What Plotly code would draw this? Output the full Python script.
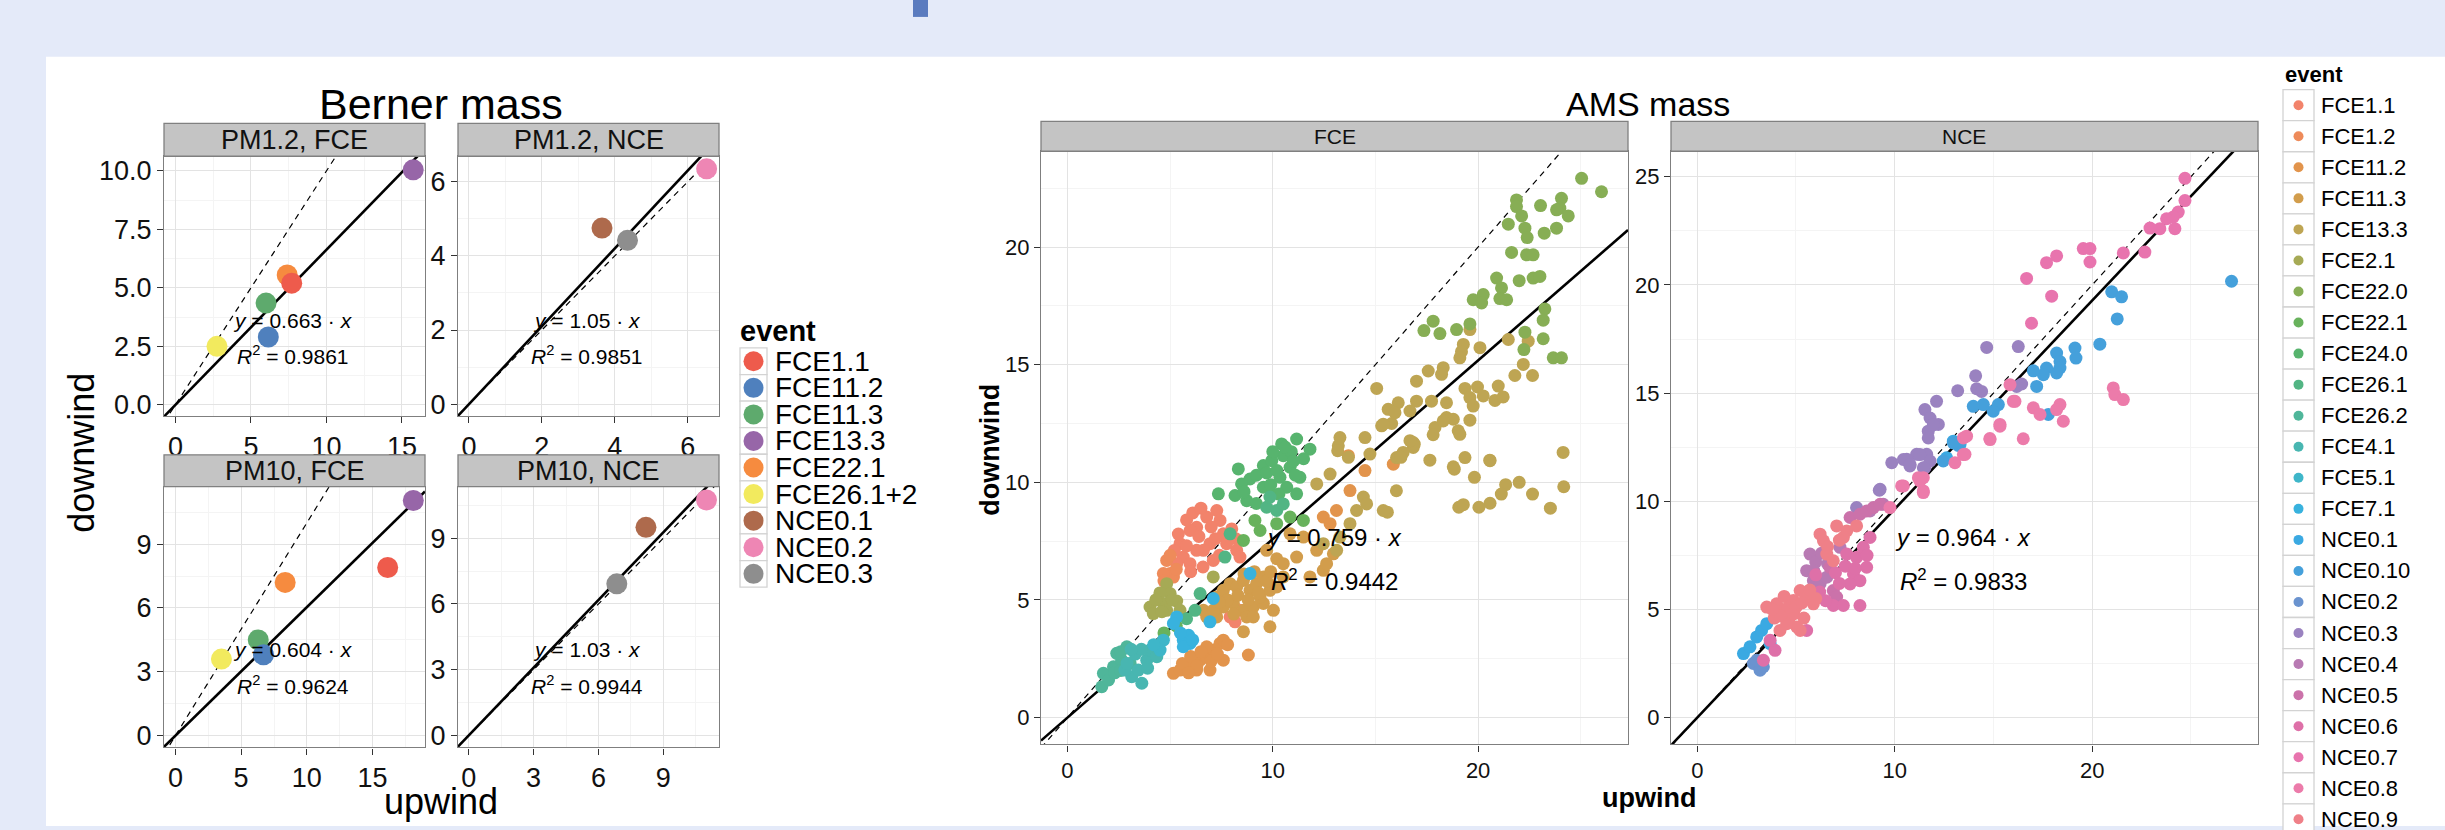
import plotly.graph_objects as go

W, H = 2445, 830
FONT = "Liberation Sans, Arial, sans-serif"

# ---------------- Berner mass data ----------------
berner_events = ["FCE1.1", "FCE11.2", "FCE11.3", "FCE13.3", "FCE22.1", "FCE26.1+2", "NCE0.1", "NCE0.2", "NCE0.3"]
berner_colors = ["#EE5B4C", "#4F80BD", "#5EAA6D", "#9766A8", "#F68B3F", "#F2EA5E", "#AE6A4C", "#EE86B4", "#8E8E8E"]

pm12_fce_event = ["FCE26.1+2", "FCE11.2", "FCE11.3", "FCE22.1", "FCE1.1", "FCE13.3"]
pm12_fce_up = [2.75, 6.15, 6.00, 7.40, 7.70, 15.75]
pm12_fce_down = [2.50, 2.90, 4.35, 5.55, 5.20, 10.05]

pm12_nce_event = ["NCE0.1", "NCE0.3", "NCE0.2"]
pm12_nce_up = [3.65, 4.35, 6.52]
pm12_nce_down = [4.75, 4.42, 6.35]

pm10_fce_event = ["FCE26.1+2", "FCE11.3", "FCE11.2", "FCE22.1", "FCE1.1", "FCE13.3"]
pm10_fce_up = [3.50, 6.30, 6.70, 8.35, 16.15, 18.10]
pm10_fce_down = [3.60, 4.50, 3.80, 7.20, 7.90, 11.05]

pm10_nce_event = ["NCE0.3", "NCE0.1", "NCE0.2"]
pm10_nce_up = [6.85, 8.20, 11.00]
pm10_nce_down = [6.92, 9.50, 10.75]

berner_slopes = [0.663, 1.05, 0.604, 1.03]
berner_slope_txt = ["0.663", "1.05", "0.604", "1.03"]
berner_r2 = ["0.9861", "0.9851", "0.9624", "0.9944"]
berner_titles = ["PM1.2, FCE", "PM1.2, NCE", "PM10, FCE", "PM10, NCE"]

# ---------------- AMS mass data (upwind, downwind) ----------------
ams_events = ["FCE1.1", "FCE1.2", "FCE11.2", "FCE11.3", "FCE13.3", "FCE2.1", "FCE22.0", "FCE22.1",
              "FCE24.0", "FCE26.1", "FCE26.2", "FCE4.1", "FCE5.1", "FCE7.1", "NCE0.1", "NCE0.10",
              "NCE0.2", "NCE0.3", "NCE0.4", "NCE0.5", "NCE0.6", "NCE0.7", "NCE0.8", "NCE0.9"]
ams_colors = ["#F2836B", "#EE8B5A", "#E2944C", "#D29D4C", "#BEA553", "#A6AA55", "#87AE55", "#68B25C",
              "#57B46E", "#52B584", "#4FB69A", "#48B6B1", "#3EB6C9", "#38B2DE", "#3AA9E2", "#45A0DB",
              "#6A93CF", "#9A82C0", "#B87AB3", "#CB72AA", "#DE70A8", "#E874AE", "#EC7BAA", "#EF8088"]

fce1_1 = [(6.78, 8.52), (7.27, 8.80), (7.43, 8.38), (6.29, 8.09), (5.97, 7.95), (6.94, 7.39), (6.62, 7.11),
          (7.10, 6.68), (7.59, 7.81), (8.00, 8.02), (8.24, 7.11), (8.40, 6.82), (5.48, 7.39), (5.64, 6.82),
          (5.32, 6.54), (5.97, 6.54), (6.29, 7.11), (7.75, 7.39), (7.92, 4.28), (8.16, 4.07), (8.40, 4.56),
          (5.40, 7.80), (5.80, 8.40), (6.10, 8.70), (6.50, 8.90), (7.00, 8.10), (7.20, 7.60), (6.40, 7.70),
          (5.80, 7.30), (6.00, 6.20), (6.60, 6.40), (7.40, 6.90), (8.20, 7.60), (5.20, 7.10)]
fce1_2 = [(4.83, 6.68), (5.00, 6.12), (5.16, 5.97), (4.67, 6.12), (5.30, 6.30), (5.00, 6.90), (4.70, 5.80)]
fce11_2 = [(5.16, 1.88), (5.48, 2.02), (5.81, 2.16), (6.13, 2.30), (6.46, 2.44), (6.78, 2.59), (7.10, 2.87),
           (7.43, 3.15), (7.59, 3.29), (6.29, 2.02), (6.94, 2.02), (7.59, 2.44), (6.78, 3.01), (8.81, 2.66),
           (13.76, 9.65), (13.10, 8.80), (12.46, 8.52), (12.79, 8.24), (14.49, 10.50), (13.68, 11.13),
           (15.87, 10.77), (5.60, 2.30), (6.00, 2.60), (6.50, 2.80), (7.00, 2.40), (7.30, 2.70), (6.30, 2.20),
           (7.80, 3.10), (5.90, 1.90)]
fce11_3 = [(7.27, 5.13), (7.59, 5.41), (7.92, 5.69), (8.24, 5.55), (8.57, 5.83), (8.89, 5.41), (9.21, 5.69),
           (9.54, 5.98), (9.86, 5.41), (10.19, 5.55), (7.59, 4.70), (8.08, 4.85), (8.57, 4.56), (9.05, 4.70),
           (9.54, 4.85), (6.78, 4.28), (7.27, 4.28), (8.73, 4.28), (9.05, 4.28), (6.62, 4.56), (10.03, 4.56),
           (9.86, 3.86), (8.57, 3.65), (7.10, 4.56), (9.38, 5.13), (9.70, 7.11), (10.19, 6.75), (11.81, 5.98),
           (12.46, 6.26), (12.95, 6.96), (10.51, 5.98), (10.84, 7.81), (11.49, 7.67), (12.14, 7.11),
           (12.62, 6.54), (11.16, 6.82), (10.51, 6.54), (7.80, 5.00), (8.30, 5.20), (8.80, 5.00), (9.30, 5.30),
           (9.70, 5.80), (8.10, 4.40), (9.90, 6.20), (7.40, 4.90), (8.60, 6.10), (9.10, 6.20)]
fce13_3 = [(19.60, 16.49), (19.28, 15.86), (19.19, 15.55), (19.11, 15.29), (20.09, 15.72), (21.47, 16.07),
           (22.44, 16.00), (17.57, 14.73), (18.30, 14.87), (18.22, 14.59), (17.00, 14.30), (15.06, 13.99),
           (22.20, 15.01), (21.79, 14.54), (22.65, 14.54), (19.36, 13.99), (19.97, 14.05), (20.98, 14.09),
           (19.60, 13.60), (20.25, 13.67), (20.82, 13.48), (21.22, 13.63), (19.76, 13.24), (16.11, 13.38),
           (15.62, 13.10), (15.95, 12.96), (17.00, 13.45), (16.68, 13.03), (17.73, 13.45), (18.46, 13.38),
           (18.46, 12.75), (18.79, 12.68), (19.60, 12.64), (15.30, 12.40), (15.79, 12.50), (17.90, 12.33),
           (17.81, 12.02), (19.03, 12.19), (19.11, 12.04), (14.49, 11.90), (13.27, 11.90), (13.19, 11.55),
           (13.16, 11.34), (16.84, 11.69), (16.84, 11.48), (16.35, 11.27), (16.03, 11.05), (14.73, 11.20),
           (17.65, 10.94), (19.36, 11.05), (20.57, 10.94), (24.14, 11.27), (18.79, 10.66), (24.17, 9.81),
           (23.52, 8.90), (22.65, 9.50), (22.00, 10.00), (21.34, 9.90), (21.13, 9.50), (20.58, 9.11),
           (20.04, 8.94), (19.06, 8.94), (19.28, 9.05), (18.84, 10.56), (19.82, 10.21), (20.58, 10.92),
           (16.02, 9.64), (15.58, 8.73), (16.89, 11.62), (16.24, 11.06), (13.27, 7.67), (13.76, 8.24),
           (14.08, 8.80), (14.41, 9.37), (14.57, 9.08), (13.11, 7.11), (12.46, 7.39), (15.38, 8.80),
           (12.14, 9.93), (12.79, 10.35), (13.68, 11.06), (15.38, 12.47), (16.68, 11.77), (18.30, 12.61)]
fce2_1 = [(4.83, 5.69), (5.00, 5.27), (4.67, 4.85), (5.32, 4.95), (4.02, 4.70), (4.18, 4.42), (5.48, 4.56),
          (4.83, 4.56), (7.10, 5.98), (4.50, 5.30), (4.30, 5.00), (4.60, 4.50), (5.10, 5.00)]
fce22_0 = [(25.04, 22.92), (26.01, 22.35), (21.87, 22.00), (21.87, 21.72), (23.04, 21.76), (24.06, 22.07),
           (23.98, 21.65), (23.82, 21.58), (24.39, 21.32), (22.12, 21.32), (21.47, 20.97), (22.28, 20.80),
           (22.39, 20.40), (23.22, 20.59), (23.82, 20.80), (21.63, 19.77), (22.36, 19.67), (22.68, 19.67),
           (20.90, 18.68), (22.00, 18.57), (22.68, 18.68), (23.01, 18.75), (21.14, 18.26), (20.25, 17.98),
           (19.76, 17.76), (20.17, 17.62), (21.06, 17.81), (21.39, 17.76), (23.25, 17.37), (23.17, 16.89),
           (17.81, 16.85), (17.36, 16.45), (18.14, 16.32), (18.95, 16.49), (19.60, 16.73), (22.28, 16.38),
           (23.17, 16.10), (22.23, 15.64), (23.66, 15.29), (24.06, 15.29)]
fce22_1 = [(9.38, 7.95), (10.19, 8.24), (10.84, 8.52), (11.49, 8.38), (8.57, 7.53), (9.13, 8.38),
           (4.70, 3.60), (5.30, 3.90)]
fce24_0 = [(7.35, 9.51), (8.32, 10.57), (8.89, 10.14), (8.48, 9.93), (8.16, 9.44), (8.73, 9.22), (9.54, 10.71),
           (9.95, 10.92), (10.43, 11.63), (11.16, 11.84), (11.81, 11.41), (10.51, 11.13), (10.84, 10.64),
           (11.32, 10.21), (10.35, 10.21), (9.54, 9.79), (9.95, 9.51), (10.68, 9.79), (11.16, 9.51),
           (10.90, 11.30), (11.50, 11.00), (10.00, 11.30), (9.20, 10.30), (9.70, 10.40), (10.20, 10.50),
           (10.60, 11.50), (11.00, 10.90), (9.90, 9.90), (10.30, 9.50), (11.10, 10.30), (8.60, 9.60),
           (9.20, 9.10)]
fce26_1 = [(10.19, 8.80), (10.51, 9.08), (9.70, 8.94), (9.86, 9.37), (7.67, 6.82), (7.92, 7.81), (6.46, 5.27),
           (6.21, 4.56), (5.80, 4.20)]
fce26_2 = [(1.67, 1.31), (1.75, 1.88), (2.24, 2.16), (2.64, 2.44), (2.89, 3.01), (2.40, 2.73), (3.05, 2.30),
           (2.00, 1.60), (2.30, 1.90), (2.60, 2.00), (2.60, 2.80)]
fce4_1 = [(3.13, 1.74), (3.62, 1.46), (3.45, 2.02), (3.86, 2.44), (4.02, 2.87), (4.35, 2.59), (2.80, 2.02),
          (2.90, 2.30), (3.30, 2.70), (3.60, 2.90), (3.90, 2.10), (3.10, 2.90)]
fce5_1 = [(4.67, 3.29), (4.51, 2.87), (4.20, 3.10)]
fce7_1 = [(5.32, 4.28), (5.16, 4.00), (5.64, 3.29), (5.97, 3.15), (5.64, 3.01), (7.10, 5.06), (8.89, 6.12),
          (6.94, 4.07), (5.90, 3.50), (5.50, 3.60), (6.10, 3.30)]

nce0_1 = [(2.34, 2.96), (2.67, 3.27), (3.01, 3.73), (3.26, 4.03), (3.52, 4.34), (3.69, 3.42), (12.63, 12.01),
          (13.31, 12.62), (12.97, 12.78)]
nce0_10 = [(27.06, 20.17), (20.99, 19.68), (21.49, 19.45), (21.27, 18.43), (20.39, 17.26), (19.13, 17.08),
           (19.18, 16.62), (18.20, 16.85), (18.37, 16.46), (18.37, 16.16), (18.20, 15.93), (17.69, 16.16),
           (17.53, 15.85), (17.02, 16.03), (17.19, 15.31), (15.25, 14.47), (14.99, 14.16), (14.49, 14.47),
           (13.98, 14.39), (17.78, 14.01), (13.22, 12.58), (12.97, 12.70), (12.46, 11.86)]
nce0_2 = [(2.84, 2.50), (3.18, 2.19), (3.35, 2.35), (3.01, 2.65)]
nce0_3 = [(14.66, 17.11), (16.26, 17.15), (14.10, 15.80), (13.19, 15.11), (14.15, 15.20), (14.40, 15.08),
          (16.43, 15.42), (16.18, 15.31), (12.12, 14.62), (11.53, 14.24), (11.79, 13.85), (11.96, 13.55),
          (11.70, 13.24), (11.70, 12.93), (12.21, 13.55), (11.11, 12.17), (11.62, 12.17), (10.61, 11.94),
          (9.85, 11.78), (10.77, 11.63), (11.53, 11.55), (9.22, 10.51), (8.07, 9.71), (9.26, 10.55),
          (10.44, 11.93), (10.78, 11.70), (11.28, 12.16), (11.79, 11.86), (11.45, 11.55), (11.96, 13.54)]
nce0_4 = [(5.71, 7.56), (5.54, 6.79), (5.88, 6.33), (6.22, 6.18), (6.56, 6.49), (7.23, 7.87), (9.42, 9.86),
          (8.75, 9.55), (6.00, 7.20), (6.30, 7.60), (5.90, 6.80), (6.60, 7.10)]
nce0_5 = [(6.72, 6.95), (6.89, 5.87), (7.06, 5.57), (7.74, 9.25), (8.24, 9.40), (8.58, 9.55), (8.92, 9.71),
          (9.26, 9.86)]
nce0_6 = [(7.57, 7.56), (8.07, 7.41), (8.58, 6.95), (8.41, 7.87), (8.75, 8.33), (7.91, 6.64), (8.24, 6.33),
          (7.74, 6.18), (6.89, 5.18), (7.40, 5.18), (8.24, 5.18), (5.54, 4.03), (3.94, 3.11), (3.35, 2.65),
          (3.69, 3.57), (7.00, 6.70), (7.50, 7.00), (8.00, 6.90), (7.20, 6.20), (8.60, 7.50), (6.20, 5.80),
          (6.50, 5.40), (6.00, 6.60)]
nce0_7 = [(24.70, 24.93), (24.70, 23.90), (24.36, 23.37), (24.11, 23.14), (23.77, 23.06), (23.43, 22.60),
          (22.93, 22.63), (24.19, 22.60), (22.67, 21.52), (21.58, 21.48), (19.55, 21.68), (19.89, 21.68),
          (19.89, 21.06), (18.20, 21.34), (17.69, 21.03), (16.68, 20.30), (17.95, 19.48), (16.93, 18.23)]
nce0_8 = [(21.07, 15.24), (21.15, 14.93), (21.58, 14.70), (15.84, 15.39), (16.09, 14.62), (17.02, 14.32),
          (17.36, 14.01), (18.37, 14.47), (18.20, 14.24), (18.54, 13.70), (15.33, 13.55), (14.82, 12.90),
          (16.51, 12.89), (13.48, 12.93), (13.56, 12.17), (13.05, 11.78), (11.45, 11.09), (11.45, 10.48),
          (10.35, 10.71), (11.20, 11.09), (9.76, 9.71), (10.44, 10.71), (11.28, 10.94), (11.45, 10.40),
          (13.48, 12.16), (13.64, 13.01), (14.83, 12.85), (15.33, 13.47), (16.01, 14.62)]
nce0_9 = [(3.52, 5.11), (4.02, 5.26), (4.36, 4.95), (4.87, 5.41), (5.21, 5.87), (5.54, 5.57), (4.70, 4.65),
          (5.04, 4.19), (4.19, 4.03), (5.21, 4.03), (4.53, 4.34), (5.88, 5.26), (6.22, 8.48), (7.06, 8.86),
          (7.57, 8.63), (8.07, 8.86), (7.40, 8.33), (6.56, 7.56), (6.89, 7.25), (6.39, 8.17), (4.40, 5.60),
          (3.90, 4.60), (4.90, 4.80), (4.60, 5.10), (5.00, 5.10), (5.40, 4.60), (4.20, 4.70), (3.80, 5.00),
          (5.70, 5.90), (6.00, 5.50), (6.60, 7.90), (7.20, 8.20), (5.30, 5.30)]

ams_fce_series = [("FCE1.1", fce1_1), ("FCE1.2", fce1_2), ("FCE11.2", fce11_2), ("FCE11.3", fce11_3),
                  ("FCE13.3", fce13_3), ("FCE2.1", fce2_1), ("FCE22.0", fce22_0), ("FCE22.1", fce22_1),
                  ("FCE24.0", fce24_0), ("FCE26.1", fce26_1), ("FCE26.2", fce26_2), ("FCE4.1", fce4_1),
                  ("FCE5.1", fce5_1), ("FCE7.1", fce7_1)]
ams_nce_series = [("NCE0.1", nce0_1), ("NCE0.10", nce0_10), ("NCE0.2", nce0_2), ("NCE0.3", nce0_3),
                  ("NCE0.4", nce0_4), ("NCE0.5", nce0_5), ("NCE0.6", nce0_6), ("NCE0.7", nce0_7),
                  ("NCE0.8", nce0_8), ("NCE0.9", nce0_9)]
ams_slopes = [0.759, 0.964]
ams_slope_txt = ["0.759", "0.964"]
ams_r2 = ["0.9442", "0.9833"]
ams_titles = ["FCE", "NCE"]

# ---------------- helpers ----------------
def fx(x):
    return x / W


def fy(y):
    return 1 - y / H


fig = go.Figure()
layout_axes = {}
shapes = []
annotations = []

# slide background pieces
shapes.append(dict(type="rect", xref="paper", yref="paper", x0=fx(46), x1=1, y0=0, y1=fy(57),
                   fillcolor="white", line_width=0, layer="below"))
shapes.append(dict(type="rect", xref="paper", yref="paper", x0=fx(913), x1=fx(928), y0=fy(17), y1=1,
                   fillcolor="#5A7BBF", line_width=0, layer="below"))


def add_panel(i, box, xr, yr, xd, yd, yfmt, fsize, strip_top, strip_text, strip_size):
    x0, y0, x1, y1 = box
    xa = "xaxis" if i == 1 else f"xaxis{i}"
    ya = "yaxis" if i == 1 else f"yaxis{i}"
    xref = "x" if i == 1 else f"x{i}"
    yref = "y" if i == 1 else f"y{i}"
    common = dict(showgrid=True, gridcolor="#E3E3E3", gridwidth=1.4, zeroline=False, showline=True,
                  linecolor="#7F7F7F", linewidth=1.3, mirror=True, ticks="outside", ticklen=6,
                  tickwidth=1.2, tickcolor="#333333", tick0=0, fixedrange=True,
                  tickfont=dict(family=FONT, size=fsize, color="#111111"))
    layout_axes[xa] = dict(common, domain=[fx(x0), fx(x1)], range=list(xr), dtick=xd, anchor=yref,
                           minor=dict(showgrid=True, gridcolor="#F4F4F4", gridwidth=1, tick0=0, dtick=xd / 2))
    layout_axes[ya] = dict(common, domain=[fy(y1), fy(y0)], range=list(yr), dtick=yd, anchor=xref,
                           tickformat=yfmt,
                           minor=dict(showgrid=True, gridcolor="#F4F4F4", gridwidth=1, tick0=0, dtick=yd / 2))
    shapes.append(dict(type="rect", xref="paper", yref="paper", x0=fx(x0), x1=fx(x1), y0=fy(y0),
                       y1=fy(strip_top), fillcolor="#C4C4C4", line=dict(color="#808080", width=1.3)))
    annotations.append(dict(xref="paper", yref="paper", x=fx((x0 + x1) / 2), y=fy((strip_top + y0) / 2),
                            text=strip_text, showarrow=False, xanchor="center", yanchor="middle",
                            font=dict(family=FONT, size=strip_size, color="#111111")))
    return xref, yref


def add_fit(xref, yref, xr, slope):
    xs = list(xr)
    fig.add_trace(go.Scatter(x=xs, y=[v for v in xs], mode="lines", xaxis=xref, yaxis=yref,
                             line=dict(color="black", width=1.2, dash="6px,5px"),
                             showlegend=False, hoverinfo="skip"))
    fig.add_trace(go.Scatter(x=xs, y=[slope * v for v in xs], mode="lines", xaxis=xref, yaxis=yref,
                             line=dict(color="black", width=2.6), showlegend=False, hoverinfo="skip"))


def add_eq(cx, cy1, cy2, slope_txt, r2_txt, size):
    annotations.append(dict(xref="paper", yref="paper", x=fx(cx), y=fy(cy1), showarrow=False,
                            text=f"<i>y</i> = {slope_txt} · <i>x</i>", xanchor="center", yanchor="middle",
                            font=dict(family=FONT, size=size, color="black")))
    annotations.append(dict(xref="paper", yref="paper", x=fx(cx), y=fy(cy2), showarrow=False,
                            text=f"<i>R</i><sup>2</sup> = {r2_txt}", xanchor="center", yanchor="middle",
                            font=dict(family=FONT, size=size, color="black")))


# ---------------- Berner panels ----------------
bcol = dict(zip(berner_events, berner_colors))
berner_data = [(pm12_fce_event, pm12_fce_up, pm12_fce_down), (pm12_nce_event, pm12_nce_up, pm12_nce_down),
               (pm10_fce_event, pm10_fce_up, pm10_fce_down), (pm10_nce_event, pm10_nce_up, pm10_nce_down)]
berner_boxes = [(164, 157, 425, 418), (458, 157, 719, 418), (164, 489, 425, 751), (458, 489, 719, 751)]
berner_strip_tops = [124, 124, 457, 457]
berner_xr = [(-0.76, 16.53), (-0.30, 6.86), (-0.87, 18.99), (-0.50, 11.58)]
berner_yr = [(-0.48, 10.63), (-0.32, 6.69), (-0.55, 11.70), (-0.55, 11.36)]
berner_xd = [5, 2, 5, 3]
berner_yd = [2.5, 2, 3, 3]
berner_yfmt = [".1f", "d", "d", "d"]
berner_eq_pos = [(293, 321.7, 356.7), (586.7, 321.7, 356.7), (293.4, 652.3, 688.3), (586.7, 652.3, 688.3)]

for k in range(4):
    xref, yref = add_panel(k + 1, berner_boxes[k], berner_xr[k], berner_yr[k], berner_xd[k], berner_yd[k],
                           berner_yfmt[k], 27, berner_strip_tops[k], berner_titles[k], 27)
    add_fit(xref, yref, berner_xr[k], berner_slopes[k])
    ev, up, dn = berner_data[k]
    fig.add_trace(go.Scatter(x=up, y=dn, mode="markers", xaxis=xref, yaxis=yref, cliponaxis=False,
                             marker=dict(size=21, color=[bcol[e] for e in ev], line_width=0),
                             showlegend=False))
    cx, c1, c2 = berner_eq_pos[k]
    add_eq(cx, c1, c2, berner_slope_txt[k], berner_r2[k], 21)

# ---------------- AMS panels ----------------
acol = dict(zip(ams_events, ams_colors))
ams_boxes = [(1041, 152, 1628, 748), (1671, 152, 2258, 748)]
ams_xr = [(-1.29, 27.3), (-1.33, 28.4)]
ams_yr = [(-1.14, 24.07), (-1.24, 26.18)]
ams_eq_pos = [(1334, 540, 583), (1963, 540, 583)]
for k, series in enumerate([ams_fce_series, ams_nce_series]):
    xref, yref = add_panel(5 + k, ams_boxes[k], ams_xr[k], ams_yr[k], 10, 5, "d", 22, 122, ams_titles[k], 21)
    add_fit(xref, yref, ams_xr[k], ams_slopes[k])
    for name, pts in series:
        fig.add_trace(go.Scatter(x=[p[0] for p in pts], y=[p[1] for p in pts], mode="markers",
                                 xaxis=xref, yaxis=yref, name=name,
                                 marker=dict(size=13, color=acol[name], line_width=0), showlegend=False))
    cx, c1, c2 = ams_eq_pos[k]
    add_eq(cx, c1, c2, ams_slope_txt[k], ams_r2[k], 24)

# ---------------- overlay axis for hand-built legends ----------------
layout_axes["xaxis7"] = dict(domain=[0, 1], range=[0, W], visible=False, fixedrange=True, anchor="y7")
layout_axes["yaxis7"] = dict(domain=[0, 1], range=[H, 0], visible=False, fixedrange=True, anchor="x7")

# left legend
L_X0, L_X1, L_Y0, L_STEP = 740, 767, 363, 26.7
annotations.append(dict(xref="paper", yref="paper", x=fx(L_X0 - 2), y=fy(333), text="<b>event</b>",
                        showarrow=False, xanchor="left", yanchor="middle",
                        font=dict(family=FONT, size=29, color="black")))
for i, ev in enumerate(berner_events):
    cy = L_Y0 + L_STEP * i
    shapes.append(dict(type="rect", xref="paper", yref="paper", x0=fx(L_X0), x1=fx(L_X1),
                       y0=fy(cy + L_STEP / 2), y1=fy(cy - L_STEP / 2), fillcolor="white", layer="below",
                       line=dict(color="#D3D3D3", width=1.3)))
    annotations.append(dict(xref="paper", yref="paper", x=fx(L_X1 + 6), y=fy(cy), text=ev, showarrow=False,
                            xanchor="left", yanchor="middle", font=dict(family=FONT, size=28, color="black")))
fig.add_trace(go.Scatter(x=[(L_X0 + L_X1) / 2] * len(berner_events),
                         y=[L_Y0 + L_STEP * i for i in range(len(berner_events))],
                         mode="markers", xaxis="x7", yaxis="y7", cliponaxis=False,
                         marker=dict(size=20, color=berner_colors, line_width=0), showlegend=False))

# right legend
R_X0, R_X1, R_Y0, R_STEP = 2283, 2314, 105.7, 31.2
annotations.append(dict(xref="paper", yref="paper", x=fx(R_X0), y=fy(75), text="<b>event</b>",
                        showarrow=False, xanchor="left", yanchor="middle",
                        font=dict(family=FONT, size=22, color="black")))
for i, ev in enumerate(ams_events):
    cy = R_Y0 + R_STEP * i
    shapes.append(dict(type="rect", xref="paper", yref="paper", x0=fx(R_X0), x1=fx(R_X1),
                       y0=fy(cy + R_STEP / 2), y1=fy(cy - R_STEP / 2), fillcolor="white", layer="below",
                       line=dict(color="#D3D3D3", width=1.3)))
    annotations.append(dict(xref="paper", yref="paper", x=fx(R_X1 + 5), y=fy(cy), text=ev, showarrow=False,
                            xanchor="left", yanchor="middle", font=dict(family=FONT, size=22, color="black")))
fig.add_trace(go.Scatter(x=[(R_X0 + R_X1) / 2] * len(ams_events),
                         y=[R_Y0 + R_STEP * i for i in range(len(ams_events))],
                         mode="markers", xaxis="x7", yaxis="y7", cliponaxis=False,
                         marker=dict(size=10, color=ams_colors, line_width=0), showlegend=False))

# ---------------- titles ----------------
annotations += [
    dict(xref="paper", yref="paper", x=fx(441), y=fy(105), text="Berner mass", showarrow=False,
         xanchor="center", yanchor="middle", font=dict(family=FONT, size=43, color="black")),
    dict(xref="paper", yref="paper", x=fx(441), y=fy(805), text="upwind", showarrow=False,
         xanchor="center", yanchor="middle", font=dict(family=FONT, size=36, color="black")),
    dict(xref="paper", yref="paper", x=fx(82), y=fy(455), text="downwind", showarrow=False, textangle=-90,
         xanchor="center", yanchor="middle", font=dict(family=FONT, size=36, color="black")),
    dict(xref="paper", yref="paper", x=fx(1648), y=fy(105), text="AMS mass", showarrow=False,
         xanchor="center", yanchor="middle", font=dict(family=FONT, size=34, color="black")),
    dict(xref="paper", yref="paper", x=fx(1649), y=fy(802), text="<b>upwind</b>", showarrow=False,
         xanchor="center", yanchor="middle", font=dict(family=FONT, size=27, color="black")),
    dict(xref="paper", yref="paper", x=fx(990), y=fy(452), text="<b>downwind</b>", showarrow=False,
         textangle=-90, xanchor="center", yanchor="middle", font=dict(family=FONT, size=27, color="black")),
]

fig.update_layout(width=W, height=H, margin=dict(l=0, r=0, t=0, b=0), autosize=False,
                  paper_bgcolor="#E4EAF9", plot_bgcolor="rgba(0,0,0,0)", showlegend=False,
                  shapes=shapes, annotations=annotations, **layout_axes)
fig.write_html("out.html")
